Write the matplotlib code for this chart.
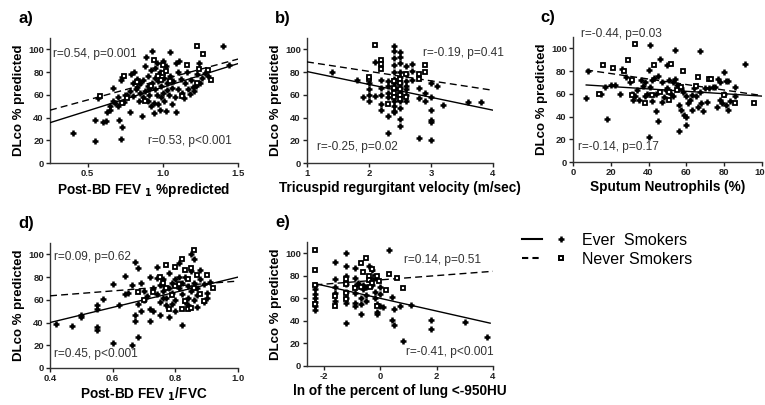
import matplotlib
matplotlib.use("Agg")
import matplotlib.pyplot as plt
from matplotlib.lines import Line2D
from matplotlib.legend_handler import HandlerTuple

plt.rcParams['font.family'] = ['Liberation Sans', 'DejaVu Sans']

# ---- panel a: Post-BD FEV1 %predicted
a_ever_x = [0.40, 0.55, 0.55, 0.57, 0.60, 0.62, 0.63, 0.65, 0.65, 0.67, 0.67, 0.68, 0.70, 0.70, 0.71,
            0.72, 0.72, 0.73, 0.73, 0.74, 0.75, 0.76, 0.78, 0.78, 0.79, 0.80, 0.80, 0.81, 0.82, 0.83,
            0.83, 0.84, 0.85, 0.85, 0.86, 0.87, 0.87, 0.88, 0.88, 0.89, 0.90, 0.90, 0.90, 0.91, 0.92,
            0.92, 0.93, 0.93, 0.94, 0.94, 0.95, 0.95, 0.96, 0.96, 0.97, 0.97, 0.98, 0.98, 0.99, 1.00,
            1.00, 1.01, 1.01, 1.02, 1.02, 1.03, 1.04, 1.05, 1.05, 1.06, 1.06, 1.07, 1.08, 1.09, 1.09,
            1.10, 1.10, 1.11, 1.12, 1.13, 1.14, 1.15, 1.16, 1.17, 1.18, 1.19, 1.20, 1.21, 1.22, 1.23,
            1.24, 1.25, 1.26, 1.28, 1.30, 1.40, 1.44, 0.84, 0.91, 0.99, 1.03, 0.95]
a_ever_y = [26, 19, 38, 57, 36, 37, 45, 47, 50, 55, 66, 53, 58, 50, 38,
            21, 73, 32, 76, 54, 60, 60, 45, 63, 78, 59, 70, 80, 65, 74,
            67, 55, 62, 70, 41, 58, 73, 85, 63, 93, 68, 55, 77, 60, 50,
            82, 99, 70, 53, 44, 65, 75, 88, 60, 72, 52, 80, 47, 68, 90,
            62, 55, 75, 46, 85, 70, 60, 98, 77, 66, 52, 72, 58, 45, 88,
            65, 80, 90, 74, 62, 57, 70, 80, 65, 61, 73, 67, 63, 68, 78,
            88, 70, 75, 79, 77, 103, 86, 72, 65, 58, 64, 84]
a_never_x = [0.58, 0.73, 0.74, 0.76, 0.88, 0.94, 0.97, 1.00, 1.00, 1.05, 1.13, 1.16, 1.23, 1.24,
             1.27, 1.30, 1.32, 0.83, 0.99, 0.92, 1.02, 1.23]
a_never_y = [59, 53, 77, 57, 55, 91, 77, 79, 86, 72, 59, 86, 103, 83,
             96, 82, 73, 71, 73, 68, 81, 70]
a_fit_x = [0.25, 1.5]
a_fit_ever = [35.5, 87.5]
a_fit_never = [46.5, 91.5]

# ---- panel b: tricuspid regurgitant velocity
b_ever_x = [1.4, 1.8, 1.9, 2.0, 2.0, 2.0, 2.0, 2.1, 2.1, 2.2, 2.2, 2.2, 2.2, 2.2, 2.3, 2.3, 2.3, 2.3,
            2.3, 2.4, 2.4, 2.4, 2.4, 2.4, 2.4, 2.4, 2.4, 2.4, 2.4, 2.4, 2.4, 2.4, 2.5, 2.5, 2.5, 2.5,
            2.5, 2.5, 2.5, 2.5, 2.5, 2.5, 2.5, 2.6, 2.6, 2.6, 2.6, 2.6, 2.6, 2.7, 2.7, 2.7, 2.8, 2.8,
            2.8, 2.9, 2.9, 3.0, 3.0, 3.0, 3.0, 3.0, 3.0, 3.1, 3.2, 3.6, 3.8, 2.3, 2.6, 2.4, 2.5]
b_ever_y = [80, 73, 58, 60, 65, 70, 55, 59, 89, 47, 52, 60, 66, 73, 41, 26, 62, 68,
            58, 103, 99, 92, 86, 80, 74, 70, 65, 60, 55, 50, 46, 45, 98, 93, 88, 80,
            76, 70, 62, 55, 48, 39, 33, 85, 78, 72, 65, 60, 55, 87, 81, 73, 66, 57,
            22, 62, 55, 70, 58, 47, 38, 36, 20, 68, 51, 54, 54, 72, 68, 66, 66]
b_never_x = [2.0, 2.0, 2.1, 2.2, 2.2, 2.2, 2.3, 2.4, 2.4, 2.4, 2.4, 2.5, 2.5, 2.5, 2.5, 2.6, 2.6,
             2.8, 2.8, 2.9, 2.9, 2.5]
b_never_y = [74, 76, 104, 91, 87, 83, 52, 72, 66, 62, 58, 74, 70, 65, 60, 78, 58,
             78, 74, 86, 80, 56]
b_fit_x = [1.0, 4.0]
b_fit_ever = [80.5, 46.5]
b_fit_never = [89, 64]

# ---- panel c: sputum neutrophils
c_ever_x = [7, 8, 15, 17, 18, 20, 22, 25, 26, 28, 30, 31, 32, 33, 34, 35, 36, 37, 38, 39, 40, 40, 41,
            41, 42, 42, 43, 44, 44, 45, 45, 46, 47, 48, 49, 50, 50, 51, 52, 53, 54, 54, 55, 56, 56,
            57, 57, 58, 59, 60, 60, 60, 61, 62, 63, 64, 65, 66, 67, 67, 68, 69, 70, 72, 74, 75, 76,
            77, 78, 78, 79, 80, 80, 81, 81, 82, 82, 83, 86, 86, 91, 53, 63, 71, 47, 38]
c_ever_y = [56, 80, 60, 66, 38, 68, 68, 60, 82, 75, 70, 60, 55, 58, 63, 55, 72, 67, 58, 60, 81, 22, 103,
            66, 54, 72, 74, 45, 60, 36, 76, 91, 70, 57, 63, 65, 85, 72, 60, 58, 99, 73, 68, 27, 50,
            46, 65, 62, 41, 33, 40, 58, 52, 55, 46, 65, 58, 48, 98, 62, 52, 45, 65, 65, 66, 66, 48,
            73, 55, 70, 52, 60, 79, 71, 50, 71, 46, 54, 66, 58, 86, 70, 59, 53, 53, 70]
c_never_x = [14, 16, 21, 27, 29, 31, 31, 33, 38, 42, 43, 51, 51, 52, 55, 58, 66, 72, 73, 80, 86, 96,
             57, 65, 46]
c_never_y = [60, 85, 83, 80, 90, 72, 59, 104, 52, 59, 85, 55, 62, 86, 63, 80, 75, 73, 73, 59, 52, 52,
             66, 67, 62]
c_fit_x = [7, 100]
c_fit_ever = [67.8, 58]
c_fit_never = [81, 58.5]

# ---- panel d: Post-BD FEV1/FVC
d_ever_x = [0.42, 0.47, 0.50, 0.50, 0.55, 0.55, 0.55, 0.55, 0.57, 0.60, 0.60, 0.62, 0.64, 0.64, 0.65,
            0.66, 0.66, 0.67, 0.67, 0.67, 0.68, 0.68, 0.68, 0.69, 0.69, 0.70, 0.70, 0.71, 0.72, 0.72,
            0.72, 0.73, 0.73, 0.74, 0.74, 0.75, 0.75, 0.75, 0.76, 0.76, 0.77, 0.77, 0.78, 0.78, 0.78,
            0.79, 0.79, 0.80, 0.80, 0.80, 0.81, 0.81, 0.82, 0.82, 0.82, 0.83, 0.83, 0.84, 0.84, 0.84,
            0.85, 0.85, 0.85, 0.86, 0.86, 0.86, 0.87, 0.87, 0.87, 0.88, 0.88, 0.89, 0.89, 0.90, 0.90,
            0.91, 0.76, 0.79, 0.74, 0.81]
d_ever_y = [39, 37, 47, 45, 55, 52, 36, 33, 61, 74, 22, 55, 65, 81, 66,
            73, 20, 47, 41, 93, 88, 56, 27, 75, 50, 60, 68, 63, 80, 52,
            41, 70, 50, 89, 65, 73, 58, 47, 78, 68, 62, 55, 45, 70, 84,
            75, 66, 60, 78, 50, 70, 92, 65, 38, 75, 58, 80, 62, 72, 55,
            100, 68, 85, 60, 75, 96, 70, 64, 54, 78, 86, 58, 74, 62, 66,
            76, 62, 56, 79, 80]
d_never_x = [0.68, 0.70, 0.73, 0.75, 0.76, 0.77, 0.77, 0.78, 0.79, 0.80, 0.81, 0.82, 0.83, 0.83,
             0.84, 0.84, 0.85, 0.85, 0.86, 0.86, 0.87, 0.88, 0.89, 0.90, 0.92, 0.80, 0.82]
d_never_y = [67, 60, 67, 80, 75, 91, 70, 52, 64, 89, 74, 96, 86, 59,
             52, 78, 88, 53, 104, 70, 82, 65, 59, 82, 70, 72, 52]
d_fit_x = [0.4, 1.0]
d_fit_ever = [40, 80]
d_fit_never = [63.5, 76.5]

# ---- panel e: ln of percent lung < -950HU
e_ever_x = [-2.3, -2.3, -2.3, -2.3, -2.3, -2.3, -2.3, -1.6, -1.6, -1.6, -1.6, -1.6, -1.2, -1.2, -1.2,
            -1.2, -1.2, -1.2, -1.2, -1.2, -0.9, -0.9, -0.9, -0.9, -0.9, -0.9, -0.7, -0.7, -0.7, -0.6,
            -0.6, -0.5, -0.5, -0.4, -0.4, -0.3, -0.3, -0.2, -0.2, -0.1, -0.1, 0.0, 0.0, 0.0, 0.1,
            0.3, 0.4, 0.4, 0.5, 0.5, 0.7, 0.8, 1.1, 1.8, 1.8, 3.0, 3.8, -0.2, -0.8, -0.5, -0.1]
e_ever_y = [50, 53, 57, 60, 64, 68, 72, 92, 77, 70, 65, 58, 100, 89, 80,
            73, 66, 60, 56, 38, 87, 78, 71, 65, 56, 53, 60, 55, 46, 72,
            68, 63, 58, 89, 77, 85, 72, 66, 60, 48, 55, 53, 70, 64, 52,
            103, 41, 61, 51, 36, 53, 22, 54, 41, 33, 39, 26, 78, 74, 70, 46]
e_never_x = [-2.3, -2.3, -2.3, -2.3, -1.6, -1.6, -1.2, -1.2, -1.2, -1.2, -0.7, -0.6, -0.5, -0.4,
             -0.4, -0.3, -0.3, -0.2, -0.1, -0.1, -0.05, -0.7, 0.2, 0.3, 0.6, 0.8, -0.9, -0.35]
e_never_y = [103, 85, 72, 55, 62, 53, 77, 73, 59, 65, 91, 83, 96, 80,
             76, 86, 74, 79, 80, 53, 75, 70, 67, 82, 78, 69, 69, 70]
e_fit_x = [-2.3, 3.9]
e_fit_ever = [73, 38]
e_fit_never_x = [-2.3, 4.0]
e_fit_never = [72, 84]

panels = [
    dict(rect=[0.0654, 0.5975, 0.2458, 0.3086], label='a)', xlabel='Post-BD FEV $_\\mathbf{1}$ %predicted',
         xlim=(0.25, 1.5), xticks=[0.5, 1.0, 1.5], xfmt='{:.1f}',
         ever=(a_ever_x, a_ever_y), never=(a_never_x, a_never_y),
         fit_ever=(a_fit_x, a_fit_ever), fit_never=(a_fit_x, a_fit_never),
         txt=[(0.27, 96, 'r=0.54, p=0.001'), (0.90, 19, 'r=0.53, p<0.001')]),
    dict(rect=[0.4013, 0.5975, 0.2431, 0.3086], label='b)', xlabel='Tricuspid regurgitant velocity (m/sec)',
         xlim=(1, 4), xticks=[1, 2, 3, 4], xfmt='{:d}',
         ever=(b_ever_x, b_ever_y), never=(b_never_x, b_never_y),
         fit_ever=(b_fit_x, b_fit_ever), fit_never=(b_fit_x, b_fit_never),
         txt=[(2.87, 97, 'r=-0.19, p=0.41'), (1.16, 14, 'r=-0.25, p=0.02')]),
    dict(rect=[0.749, 0.6, 0.247, 0.3086], label='c)', xlabel='Sputum Neutrophils (%)',
         xlim=(0, 100), xticks=[0, 20, 40, 60, 80, 100], xfmt='{:d}',
         ever=(c_ever_x, c_ever_y), never=(c_never_x, c_never_y),
         fit_ever=(c_fit_x, c_fit_ever), fit_never=(c_fit_x, c_fit_never),
         txt=[(4.3, 113, 'r=-0.44, p=0.03'), (2.6, 13, 'r=-0.14, p=0.17')]),
    dict(rect=[0.0654, 0.0914, 0.2458, 0.3086], label='d)', xlabel='Post-BD FEV $_\\mathbf{1}$/FVC',
         xlim=(0.4, 1.0), xticks=[0.4, 0.6, 0.8, 1.0], xfmt='{:.1f}',
         ever=(d_ever_x, d_ever_y), never=(d_never_x, d_never_y),
         fit_ever=(d_fit_x, d_fit_ever), fit_never=(d_fit_x, d_fit_never),
         txt=[(0.413, 98, 'r=0.09, p=0.62'), (0.413, 12, 'r=0.45, p<0.001')]),
    dict(rect=[0.4013, 0.0963, 0.2431, 0.3062], label='e)', xlabel='ln of the percent of lung <-950HU',
         xlim=(-2.6, 4), xticks=[-2, 0, 2, 4], xfmt='{:d}',
         ever=(e_ever_x, e_ever_y), never=(e_never_x, e_never_y),
         fit_ever=(e_fit_x, e_fit_ever), fit_never=(e_fit_never_x, e_fit_never),
         txt=[(0.83, 94, 'r=0.14, p=0.51'), (0.9, 12, 'r=-0.41, p<0.001')]),
]

fig = plt.figure(figsize=(7.65, 4.05), dpi=100)

for p in panels:
    ax = fig.add_axes(p['rect'])
    ax.plot(*p['fit_ever'], color='black', lw=1.0, zorder=3)
    ax.plot(*p['fit_never'], color='black', lw=1.0, ls=(0, (5, 3)), zorder=3)
    ax.plot(*p['ever'], ls='none', marker='+', ms=5, mew=1.8, color='black', zorder=2)
    ax.plot(*p['never'], ls='none', marker='s', ms=3.3, mfc='white', mec='black', mew=1.3, zorder=4)
    ax.set_xlim(*p['xlim'])
    ax.set_ylim(0, 110)
    ax.set_yticks([0, 20, 40, 60, 80, 100])
    ax.set_xticks(p['xticks'])
    ax.set_xticklabels([p['xfmt'].format(t) for t in p['xticks']])
    for s in ['top', 'right']:
        ax.spines[s].set_visible(False)
    for s in ['left', 'bottom']:
        ax.spines[s].set_linewidth(1.0)
        ax.spines[s].set_color('#333333')
    ax.tick_params(direction='out', length=3, width=1, labelsize=6.8, pad=1.5, colors='#222222')
    for lab in ax.get_xticklabels() + ax.get_yticklabels():
        lab.set_fontweight('bold')
    ax.set_ylabel('DLco % predicted', fontsize=9.5, fontweight='bold', labelpad=2)
    ax.set_xlabel(p['xlabel'], fontsize=9.8, fontweight='bold', labelpad=2)
    for tx, ty, s in p['txt']:
        ax.text(tx, ty, s, fontsize=8.6, color='#333333', va='center', ha='left')
    ax.text(-0.17, 1.16, p['label'], transform=ax.transAxes, fontsize=12, fontweight='bold',
            va='center', ha='left')

h_ever = (Line2D([], [], color='black', lw=1.5), Line2D([], [], ls='none', marker='+', ms=5, mew=1.8, color='black'))
h_never = (Line2D([], [], color='black', lw=1.5, ls=(0, (3, 2))),
           Line2D([], [], ls='none', marker='s', ms=3.5, mfc='white', mec='black', mew=1.4))
fig.legend([h_ever, h_never], ['Ever  Smokers', 'Never Smokers'],
           handler_map={tuple: HandlerTuple(ndivide=None, pad=0.6)},
           loc='center left', bbox_to_anchor=(0.683, 0.383), frameon=False,
           fontsize=11.5, handlelength=3.0, handletextpad=0.7, labelspacing=0.25,
           borderaxespad=0, borderpad=0)

fig.savefig('out.png', dpi=100)
